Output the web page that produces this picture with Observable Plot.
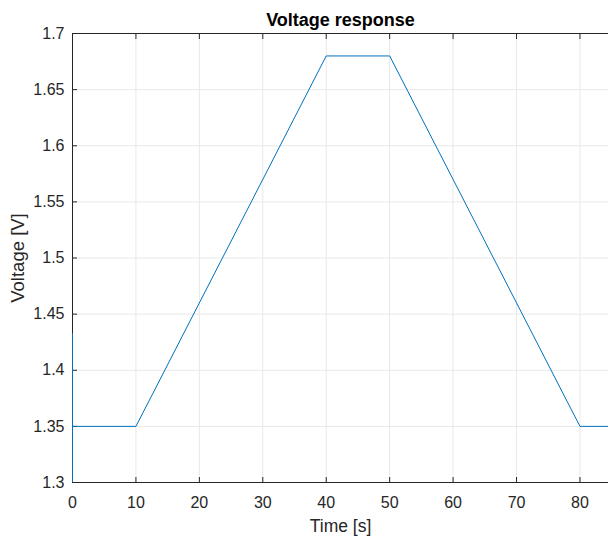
<!DOCTYPE html>
<html>
<head>
<meta charset="utf-8">
<script src="https://cdn.jsdelivr.net/npm/d3@7"></script>
<script src="https://cdn.jsdelivr.net/npm/@observablehq/plot@0.6"></script>
<style>
  html, body { margin: 0; padding: 0; background: #fff; }
  #chart svg { display: block; }
</style>
</head>
<body>
<div id="chart"></div>
<script>
// Voltage response over time
const time = [0, 0, 0, 10, 40, 50, 80, 90];
const voltage = [1.3, 1.433, 1.35, 1.35, 1.68, 1.68, 1.35, 1.35];

const xTicks = [0, 10, 20, 30, 40, 50, 60, 70, 80];
const yTicks = [1.3, 1.35, 1.4, 1.45, 1.5, 1.55, 1.6, 1.65, 1.7];

const data = time.map((t, i) => ({t, v: voltage[i]}));

const axisColor = "#262626";
const gridColor = "#e8e8e8";
const font = "Arial, 'Liberation Sans', Helvetica, sans-serif";

const chart = Plot.plot({
  width: 608,
  height: 540,
  marginLeft: 72,
  marginRight: 0,
  marginTop: 33,
  marginBottom: 58,
  style: {fontFamily: font, fontSize: "16px", color: axisColor, background: "#fff"},
  x: {domain: [0, 84.5]},
  y: {domain: [1.3, 1.7]},
  marks: [
    // grid
    Plot.ruleX(xTicks, {stroke: gridColor, strokeWidth: 1}),
    Plot.ruleY(yTicks, {stroke: gridColor, strokeWidth: 1}),
    // axes box (left, bottom, top)
    Plot.ruleX([0], {stroke: axisColor, strokeWidth: 1}),
    Plot.ruleY([1.3, 1.7], {stroke: axisColor, strokeWidth: 1}),
    Plot.axisX({ticks: xTicks, anchor: "bottom", tickSize: -5, tickPadding: 19, tickFormat: (d) => String(d), stroke: axisColor, fill: axisColor, fontSize: 16, label: null}),
    Plot.axisX({ticks: xTicks, anchor: "top", tickSize: -5, tickFormat: () => "", stroke: axisColor, label: null}),
    Plot.axisY({ticks: yTicks, anchor: "left", tickSize: -5, tickPadding: 13, tickFormat: (d) => String(d), stroke: axisColor, fill: axisColor, fontSize: 16, label: null}),
    // axis labels and title
    Plot.text(["Time [s]"], {frameAnchor: "bottom", lineAnchor: "middle", textAnchor: "middle", dy: 44, fontSize: 17.5, fill: axisColor}),
    Plot.text(["Voltage [V]"], {frameAnchor: "left", lineAnchor: "middle", textAnchor: "middle", dx: -54, rotate: -90, fontSize: 18.5, fill: axisColor}),
    Plot.text(["Voltage response"], {frameAnchor: "top", lineAnchor: "middle", textAnchor: "middle", dy: -13, fontSize: 18, fontWeight: "bold", fill: "#000"}),
    // response curve
    Plot.line(data, {x: "t", y: "v", stroke: "#0072BD", strokeWidth: 1, clip: true})
  ]
});

document.getElementById("chart").append(chart);
</script>
</body>
</html>
